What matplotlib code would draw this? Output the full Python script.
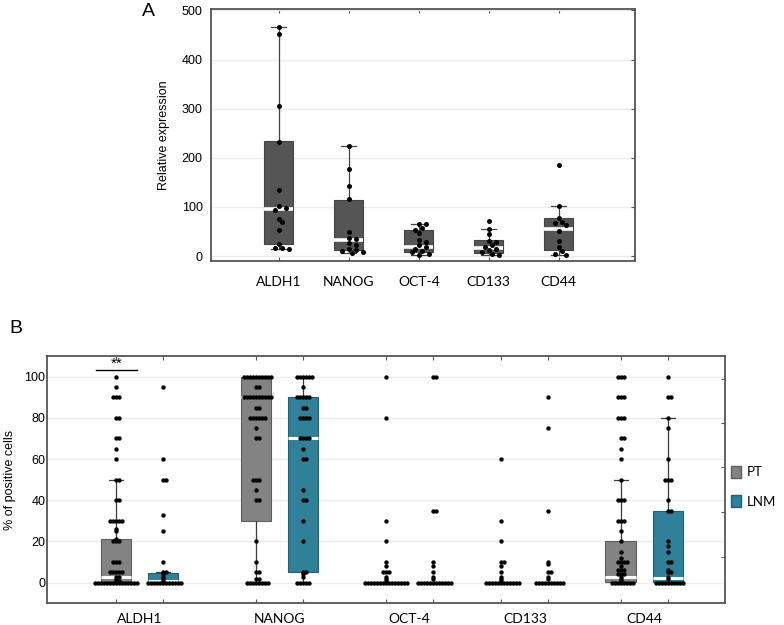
import numpy as np
import matplotlib
matplotlib.use('Agg')
import matplotlib.pyplot as plt
from matplotlib.patches import Patch

# ---- data ----
genes = ['ALDH1', 'NANOG', 'OCT-4', 'CD133', 'CD44']

# panel A: relative expression
a_points = [
    [466, 452, 305, 233, 134, 101, 97, 93, 76, 69, 53, 25, 16, 14, 16],
    [225, 178, 143, 116, 49, 36, 35, 26, 22, 14, 12, 10, 8, 6],
    [66, 66, 58, 53, 47, 32, 28, 22, 18, 14, 10, 8, 5, 3],
    [72, 55, 45, 30, 28, 22, 18, 15, 12, 8, 5, 3],
    [186, 102, 77, 70, 68, 63, 52, 30, 18, 10, 5, 3],
]
a_q1 = [25, 13, 8, 7, 13]
a_med = [95, 32, 19, 17, 55]
a_q3 = [234, 115, 53, 32, 77]
a_lo = [15, 6, 3, 3, 3]
a_hi = [466, 225, 66, 56, 102]

# panel B: % of positive cells, PT vs LNM
pt_points = [
    [100, 95, 90, 90, 90, 80, 80, 70, 70, 65, 60, 50, 50, 40, 40, 30, 30, 30, 30, 30,
     26, 25, 21, 20, 20, 20, 10, 10, 10, 5, 5, 5, 5, 5, 3, 3, 2, 1, 1] + [0] * 15,
    [100] * 10 + [95, 95] + [90] * 10 + [85, 85] + [80] * 6 +
    [75, 70, 70, 50, 50, 50, 45, 40, 40, 20, 10, 5, 5, 2, 2] + [0] * 8,
    [100, 80, 30, 20, 10, 8, 5, 5, 5, 3, 2, 1] + [0] * 15,
    [60, 30, 20, 10, 10, 8, 5, 3, 2, 1] + [0] * 12,
    [100] * 3 + [90] * 3 + [80] * 3 +
    [70, 70, 65, 60, 50, 40, 40, 40, 30, 30, 30, 25, 20, 15, 12, 10, 10, 10, 10,
     8, 6, 6, 6, 4, 4, 4, 3, 2, 1] + [0] * 8,
]
lnm_points = [
    [95, 60, 50, 50, 33, 25, 10, 5, 5, 4, 3, 2, 1] + [0] * 12,
    [100] * 6 + [95] + [90] * 5 + [85, 85] + [80] * 4 + [70] * 4 +
    [65, 60, 60, 45, 40, 40, 30, 20, 5, 5, 4, 3] + [0] * 5,
    [100, 100, 35, 35, 10, 8, 5, 3, 2] + [0] * 12,
    [90, 75, 35, 10, 9, 5, 5, 3, 2] + [0] * 10,
    [100, 90, 90, 80, 75, 60, 50, 50, 50, 40, 35, 35, 20, 18, 15, 10, 10, 6, 5, 5, 3, 2] + [0] * 10,
]
# box stats (q1, med, q3, whisker lo, whisker hi); None = no box drawn
pt_stats = [(0.5, 3, 21, 0, 50), (30, 90, 100, 0, 100), None, None, (0.5, 3, 20, 0, 50)]
lnm_stats = [(0.5, 1, 4.5, 0, 5), (5, 70, 90, 0, 100), None, None, (0.5, 2.5, 35, 0, 80)]

# ---- style ----
A_BOX = '#555555'
PT_COL = '#838383'
PT_EDGE = '#5e5e5e'
LNM_COL = '#2f8098'
LNM_EDGE = '#1e5f73'
GRID = '#ebebeb'
SPINE = '#555555'
CAT_FONT = 'Lato'
NUM_FONT = 'Liberation Sans'


def swarm(vals, xc, xpx, ypx, d, step):
    # simple deterministic beeswarm in pixel space
    placed = []
    xs = []
    for v in vals:
        py = v * ypx
        k = 0
        while True:
            offs = [0.0] if k == 0 else [k * step, -k * step]
            ok = None
            for o in offs:
                if all((o - px) ** 2 + (py - qy) ** 2 >= d * d for px, qy in placed):
                    ok = o
                    break
            if ok is not None:
                placed.append((ok, py))
                xs.append(xc + ok / xpx)
                break
            k += 1
    return xs


def make_stats(s):
    q1, med, q3, lo, hi = s
    return dict(q1=q1, med=med, q3=q3, whislo=lo, whishi=hi, fliers=[])


def style_axes(ax):
    for sp in ax.spines.values():
        sp.set_color(SPINE)
        sp.set_linewidth(1.3)
    ax.yaxis.grid(True, color=GRID, lw=1.0)
    ax.set_axisbelow(True)


fig = plt.figure(figsize=(7.84, 6.25), dpi=100)

# ---------------- panel A ----------------
axA = fig.add_axes([0.269, 0.5824, 0.541, 0.4032])
style_axes(axA)
posA = np.arange(1, len(genes) + 1)
statsA = [make_stats(s) for s in zip(a_q1, a_med, a_q3, a_lo, a_hi)]
axA.bxp(statsA, positions=posA, widths=0.41, patch_artist=True, showfliers=False,
        boxprops=dict(facecolor=A_BOX, edgecolor='#444444', lw=0.8),
        medianprops=dict(color='white', lw=2.6),
        whiskerprops=dict(color='#444444', lw=0.9),
        capprops=dict(color='#444444', lw=0.9), capwidths=0.21)
for i, vals in enumerate(a_points):
    v = sorted(vals, reverse=True)
    xs = swarm(v, posA[i], 70, 0.493, 4.5, 3.5)
    axA.scatter(xs, v, s=13, color='black', zorder=4, lw=0)
axA.set_xlim(0.03, 6.09)
axA.set_ylim(-10, 503)
axA.set_yticks(range(0, 501, 100))
axA.set_xticks(posA)
axA.set_xticklabels(genes, fontsize=10, family=CAT_FONT)
axA.tick_params(axis='x', direction='in', length=3, pad=11, color=SPINE, top=True)
axA.tick_params(axis='y', left=False, right=True, direction='in', length=3,
                color=SPINE, pad=6, labelsize=9)
for lab in axA.get_yticklabels():
    lab.set_family(NUM_FONT)
axA.set_ylabel('Relative expression', fontsize=9, family=NUM_FONT, labelpad=8)

# ---------------- panel B ----------------
axB = fig.add_axes([0.0596, 0.0347, 0.8651, 0.3957])
style_axes(axB)
centers = np.array([0, 1, 1.928, 2.755, 3.606])
half = 0.168
pt_x = centers - half
lnm_x = centers + half

for xs_pos, stats, col, edge in [(pt_x, pt_stats, PT_COL, PT_EDGE),
                                 (lnm_x, lnm_stats, LNM_COL, LNM_EDGE)]:
    idx = [i for i, s in enumerate(stats) if s is not None]
    axB.bxp([make_stats(stats[i]) for i in idx], positions=xs_pos[idx], widths=0.215,
            patch_artist=True, showfliers=False,
            boxprops=dict(facecolor=col, edgecolor=edge, lw=0.8),
            medianprops=dict(color='white', lw=2.2),
            whiskerprops=dict(color='#3c3c3c', lw=0.9),
            capprops=dict(color='#3c3c3c', lw=0.9), capwidths=0.1)

for i in range(len(genes)):
    for xc, vals in [(pt_x[i], pt_points[i]), (lnm_x[i], lnm_points[i])]:
        v = sorted(vals, reverse=True)
        xs = swarm(v, xc, 140, 2.07, 1.7, 1.5)
        axB.scatter(xs, v, s=10, color='black', zorder=4, lw=0)

axB.set_xlim(-0.661, 4.184)
axB.set_ylim(-10, 110)
axB.set_yticks(range(0, 101, 20))
axB.set_xticks(np.sort(np.concatenate([pt_x, lnm_x])))
axB.set_xticklabels([])
axB.set_xticks(centers, minor=True)
axB.set_xticklabels(genes, minor=True, fontsize=10, family=CAT_FONT)
axB.tick_params(axis='x', which='major', direction='in', length=3, color=SPINE, top=True)
axB.tick_params(axis='x', which='minor', length=0, pad=7)
axB.tick_params(axis='y', length=0, pad=1, labelsize=9)
for lab in axB.get_yticklabels():
    lab.set_family(NUM_FONT)
axB.set_ylabel('% of positive cells', fontsize=9, family=NUM_FONT, labelpad=6)

sec = axB.secondary_yaxis('right')
sec.set_yticks([12.6, 34.3, 56, 77.4, 98.7])
sec.set_yticklabels([])
sec.tick_params(direction='in', length=3, color=SPINE)
sec.spines['right'].set_visible(False)

# significance bar
axB.plot([pt_x[0] - 0.14, pt_x[0] + 0.155], [103.2, 103.2], color='black', lw=1)
axB.text(pt_x[0] + 0.01, 102.6, '**', ha='center', va='bottom', fontsize=11, family=NUM_FONT)

# legend
handles = [Patch(facecolor=PT_COL, edgecolor=PT_EDGE, label='PT'),
           Patch(facecolor=LNM_COL, edgecolor=LNM_EDGE, label='LNM')]
fig.legend(handles=handles, loc='center left', bbox_to_anchor=(0.92, 0.221),
           frameon=False, handlelength=0.8, handleheight=1.0, labelspacing=1.3,
           handletextpad=0.4, borderaxespad=0.3, prop={'family': CAT_FONT, 'size': 9.5})

fig.text(0.189, 0.982, 'A', fontsize=14, family=NUM_FONT, ha='center', va='center')
fig.text(0.02, 0.474, 'B', fontsize=14, family=NUM_FONT, ha='center', va='center')

fig.savefig('out.png', dpi=100)
